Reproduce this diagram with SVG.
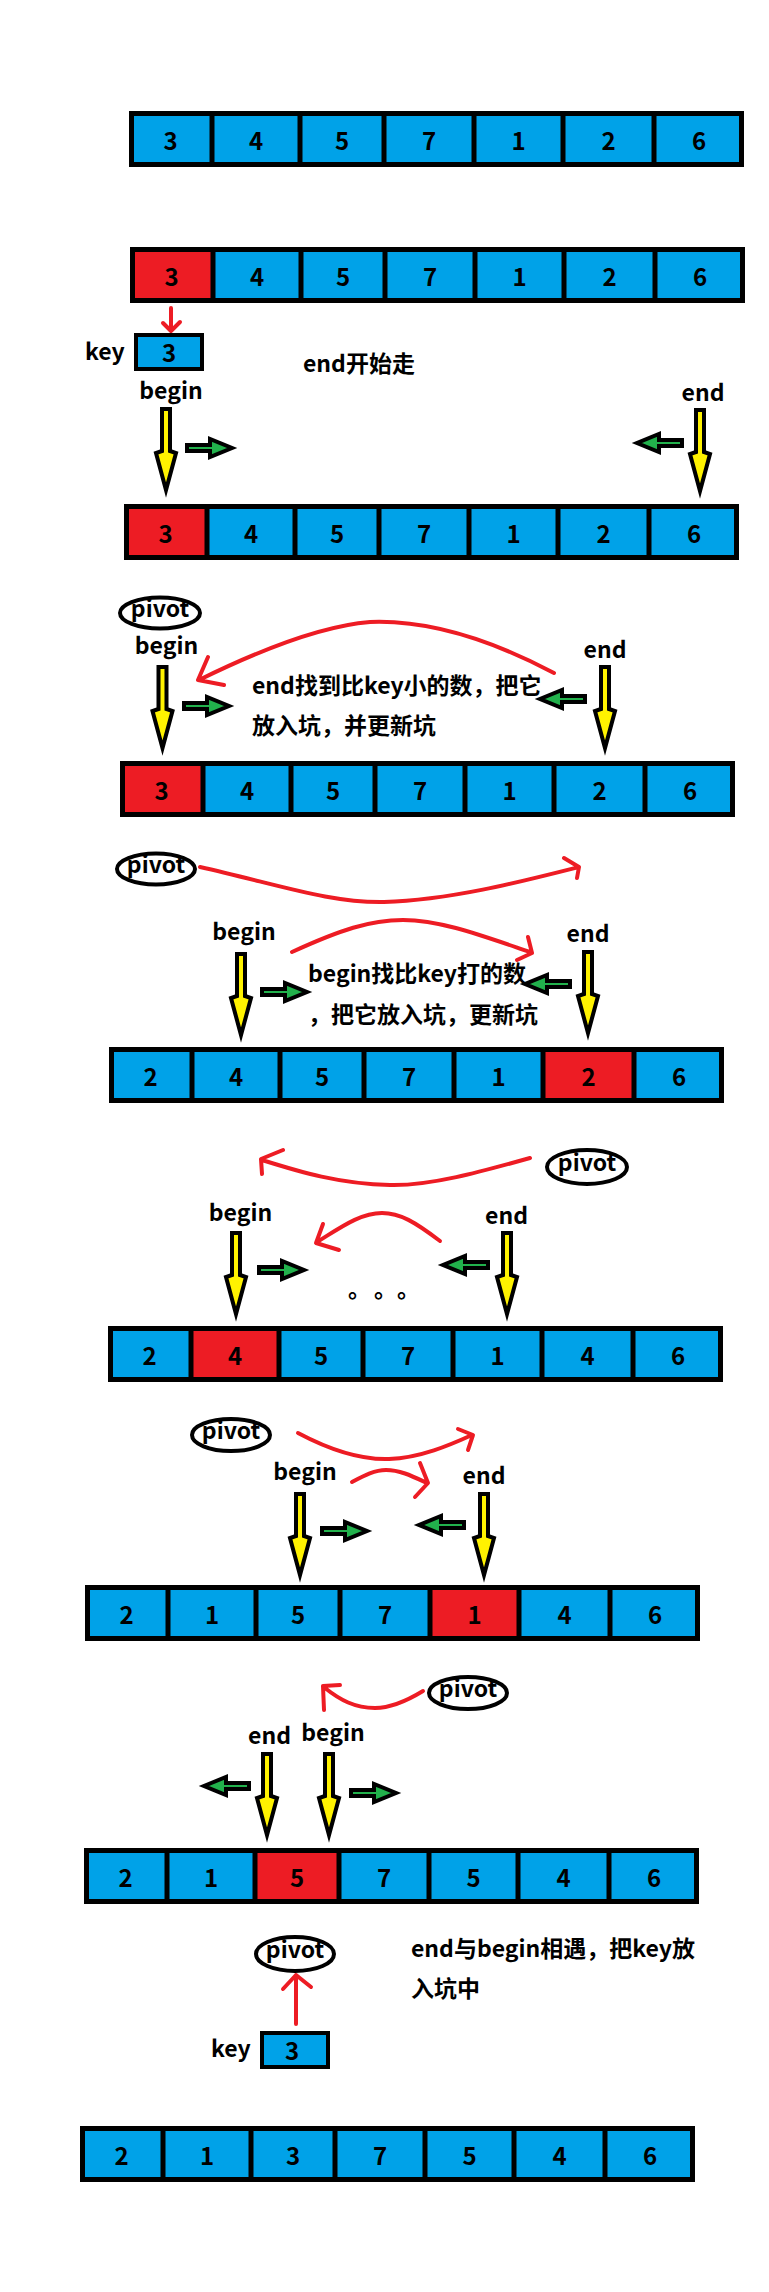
<svg xmlns="http://www.w3.org/2000/svg" xmlns:xlink="http://www.w3.org/1999/xlink" width="769" height="2292" viewBox="0 0 769 2292">
<style>
.b{fill:#00A2E8}
.r{fill:#ED1C24}
.frame{fill:none;stroke:#000;stroke-width:5}
.num{font-family:"Noto Sans CJK SC","Noto Sans",sans-serif;font-weight:bold;font-size:24px;text-anchor:middle;fill:#000}
.lbl{font-family:"Noto Sans CJK SC","Noto Sans",sans-serif;font-weight:bold;font-size:23px;fill:#000}
.mid{text-anchor:middle}
.red{fill:none;stroke:#ED1C24;stroke-width:4;stroke-linecap:round;stroke-linejoin:round}
.pv{fill:#fff;stroke:#000;stroke-width:4}
</style>
<defs>
<g id="frame">
<rect class="frame" x="2.5" y="2.5" width="610" height="51"/>
<path class="frame" d="M83,0V56M171,0V56M255,0V56M345,0V56M434,0V56M525,0V56"/>
</g>
<path id="ya" d="M-4,2 L4,2 L4,44 L10,46 L0,83 L-10,46 L-4,44 Z" fill="#FFF200" stroke="#000" stroke-width="4" stroke-miterlimit="10"/>
<path id="ga" d="M2,-3 L25,-3 L25,-9 L47,0 L25,9 L25,3 L2,3 Z" fill="#22B14C" stroke="#000" stroke-width="4" stroke-miterlimit="10"/>
</defs>
<rect width="769" height="2292" fill="#fff"/>

<!-- Arrays -->
<g id="array1" transform="translate(129,111)">
<rect class="b" x="0" y="0" width="615" height="56"/>
<use href="#frame"/>
<text class="num" x="41.5" y="39">3</text><text class="num" x="127" y="39">4</text><text class="num" x="213" y="39">5</text><text class="num" x="300" y="39">7</text><text class="num" x="389.5" y="39">1</text><text class="num" x="479.5" y="39">2</text><text class="num" x="570" y="39">6</text>
</g>
<g id="array2" transform="translate(130,247)">
<rect class="b" x="0" y="0" width="615" height="56"/><rect class="r" x="0" y="0" width="83" height="56"/>
<use href="#frame"/>
<text class="num" x="41.5" y="39">3</text><text class="num" x="127" y="39">4</text><text class="num" x="213" y="39">5</text><text class="num" x="300" y="39">7</text><text class="num" x="389.5" y="39">1</text><text class="num" x="479.5" y="39">2</text><text class="num" x="570" y="39">6</text>
</g>
<g id="array3" transform="translate(124,504)">
<rect class="b" x="0" y="0" width="615" height="56"/><rect class="r" x="0" y="0" width="83" height="56"/>
<use href="#frame"/>
<text class="num" x="41.5" y="39">3</text><text class="num" x="127" y="39">4</text><text class="num" x="213" y="39">5</text><text class="num" x="300" y="39">7</text><text class="num" x="389.5" y="39">1</text><text class="num" x="479.5" y="39">2</text><text class="num" x="570" y="39">6</text>
</g>
<g id="array4" transform="translate(120,761)">
<rect class="b" x="0" y="0" width="615" height="56"/><rect class="r" x="0" y="0" width="83" height="56"/>
<use href="#frame"/>
<text class="num" x="41.5" y="39">3</text><text class="num" x="127" y="39">4</text><text class="num" x="213" y="39">5</text><text class="num" x="300" y="39">7</text><text class="num" x="389.5" y="39">1</text><text class="num" x="479.5" y="39">2</text><text class="num" x="570" y="39">6</text>
</g>
<g id="array5" transform="translate(109,1047)">
<rect class="b" x="0" y="0" width="615" height="56"/><rect class="r" x="434" y="0" width="91" height="56"/>
<use href="#frame"/>
<text class="num" x="41.5" y="39">2</text><text class="num" x="127" y="39">4</text><text class="num" x="213" y="39">5</text><text class="num" x="300" y="39">7</text><text class="num" x="389.5" y="39">1</text><text class="num" x="479.5" y="39">2</text><text class="num" x="570" y="39">6</text>
</g>
<g id="array6" transform="translate(108,1326)">
<rect class="b" x="0" y="0" width="615" height="56"/><rect class="r" x="83" y="0" width="88" height="56"/>
<use href="#frame"/>
<text class="num" x="41.5" y="39">2</text><text class="num" x="127" y="39">4</text><text class="num" x="213" y="39">5</text><text class="num" x="300" y="39">7</text><text class="num" x="389.5" y="39">1</text><text class="num" x="479.5" y="39">4</text><text class="num" x="570" y="39">6</text>
</g>
<g id="array7" transform="translate(85,1585)">
<rect class="b" x="0" y="0" width="615" height="56"/><rect class="r" x="345" y="0" width="89" height="56"/>
<use href="#frame"/>
<text class="num" x="41.5" y="39">2</text><text class="num" x="127" y="39">1</text><text class="num" x="213" y="39">5</text><text class="num" x="300" y="39">7</text><text class="num" x="389.5" y="39">1</text><text class="num" x="479.5" y="39">4</text><text class="num" x="570" y="39">6</text>
</g>
<g id="array8" transform="translate(84,1848)">
<rect class="b" x="0" y="0" width="615" height="56"/><rect class="r" x="171" y="0" width="84" height="56"/>
<use href="#frame"/>
<text class="num" x="41.5" y="39">2</text><text class="num" x="127" y="39">1</text><text class="num" x="213" y="39">5</text><text class="num" x="300" y="39">7</text><text class="num" x="389.5" y="39">5</text><text class="num" x="479.5" y="39">4</text><text class="num" x="570" y="39">6</text>
</g>
<g id="array9" transform="translate(80,2126)">
<rect class="b" x="0" y="0" width="615" height="56"/>
<use href="#frame"/>
<text class="num" x="41.5" y="39">2</text><text class="num" x="127" y="39">1</text><text class="num" x="213" y="39">3</text><text class="num" x="300" y="39">7</text><text class="num" x="389.5" y="39">5</text><text class="num" x="479.5" y="39">4</text><text class="num" x="570" y="39">6</text>
</g>

<!-- key boxes -->
<g id="key1">
<text class="lbl" x="85" y="360">key</text>
<rect class="b" x="136" y="335" width="66" height="34" stroke="#000" stroke-width="4"/>
<text class="num" x="169" y="362">3</text>
</g>
<g id="key2">
<text class="lbl" x="211" y="2057">key</text>
<rect class="b" x="262" y="2033" width="66" height="34" stroke="#000" stroke-width="4"/>
<text class="num" x="292" y="2060">3</text>
</g>

<!-- pivots -->
<g id="pivot1"><ellipse class="pv" cx="160" cy="613" rx="40" ry="15.5"/><text class="lbl mid" x="160" y="617">pivot</text></g>
<g id="pivot2"><ellipse class="pv" cx="156" cy="869" rx="39" ry="15.5"/><text class="lbl mid" x="156" y="873">pivot</text></g>
<g id="pivot3"><ellipse class="pv" cx="587" cy="1167" rx="40" ry="17"/><text class="lbl mid" x="587" y="1171">pivot</text></g>
<g id="pivot4"><ellipse class="pv" cx="231" cy="1435" rx="39" ry="16"/><text class="lbl mid" x="231" y="1439">pivot</text></g>
<g id="pivot5"><ellipse class="pv" cx="468" cy="1693" rx="39" ry="16"/><text class="lbl mid" x="468" y="1697">pivot</text></g>
<g id="pivot6"><ellipse class="pv" cx="295" cy="1954" rx="39" ry="17"/><text class="lbl mid" x="295" y="1958">pivot</text></g>

<!-- labels -->
<g id="labels">
<text class="lbl" x="303" y="372">end开始走</text>
<text class="lbl mid" x="171" y="399">begin</text>
<text class="lbl mid" x="703" y="401">end</text>
<text class="lbl mid" x="166.5" y="654">begin</text>
<text class="lbl mid" x="605" y="658">end</text>
<text class="lbl" x="252" y="694">end找到比key小的数，把它</text>
<text class="lbl" x="252" y="734">放入坑，并更新坑</text>
<text class="lbl mid" x="244" y="940">begin</text>
<text class="lbl mid" x="588" y="942">end</text>
<text class="lbl" x="308" y="982">begin找比key打的数</text>
<text class="lbl" x="308" y="1023">，把它放入坑，更新坑</text>
<text class="lbl mid" x="240.5" y="1221">begin</text>
<text class="lbl mid" x="506.5" y="1224">end</text>
<text class="lbl" x="348 374 397" y="1297">。。。</text>
<text class="lbl mid" x="305" y="1480">begin</text>
<text class="lbl mid" x="484" y="1484">end</text>
<text class="lbl mid" x="269.5" y="1744">end</text>
<text class="lbl mid" x="333" y="1741">begin</text>
<text class="lbl" x="411" y="1957">end与begin相遇，把key放</text>
<text class="lbl" x="411" y="1997">入坑中</text>
</g>

<!-- connectors -->
<g id="connectors">
<g id="yellow-arrows">
<use href="#ya" x="166" y="407"/><use href="#ya" x="700" y="408"/>
<use href="#ya" x="162.5" y="665"/><use href="#ya" x="605" y="665"/>
<use href="#ya" x="241" y="952"/><use href="#ya" x="588" y="950"/>
<use href="#ya" x="236" y="1231"/><use href="#ya" x="507" y="1231"/>
<use href="#ya" x="300" y="1492"/><use href="#ya" x="484" y="1492"/>
<use href="#ya" x="267" y="1752"/><use href="#ya" x="329" y="1752"/>
</g>
<g id="green-arrows">
<use href="#ga" transform="translate(185,448)"/><use href="#ga" transform="translate(684,443) scale(-1,1)"/>
<use href="#ga" transform="translate(182,706)"/><use href="#ga" transform="translate(587,699) scale(-1,1)"/>
<use href="#ga" transform="translate(260,992)"/><use href="#ga" transform="translate(572,984) scale(-1,1)"/>
<use href="#ga" transform="translate(257,1270)"/><use href="#ga" transform="translate(490,1265) scale(-1,1)"/>
<use href="#ga" transform="translate(320,1531)"/><use href="#ga" transform="translate(466,1525) scale(-1,1)"/>
<use href="#ga" transform="translate(251,1786) scale(-1,1)"/><use href="#ga" transform="translate(349,1793)"/>
</g>
<g id="red-arrows">
<path class="red" d="M171,308 L171,331 M163,323 L171,331 L180,322"/>
<path class="red" d="M554,673 C480,634 420,620 370,622 C320,626 260,650 199,680 M208,657 L198,680 L224,685"/>
<path class="red" d="M200,867 C280,885 330,903 384,902 C450,900 520,882 579,867 M564,858 L579,867 L577,878"/>
<path class="red" d="M292,952 C340,930 370,920 403,920 C440,920 480,935 530,952 M528,937 L532,953 L517,960"/>
<path class="red" d="M530,1158 C480,1172 430,1186 390,1185 C340,1184 300,1172 262,1160 M283,1150 L261,1159 L262,1174"/>
<path class="red" d="M440,1241 C415,1222 400,1213 382,1213 C360,1213 340,1228 317,1242 M323,1224 L316,1243 L339,1250"/>
<path class="red" d="M298,1433 C330,1450 360,1460 389,1459 C420,1458 450,1445 472,1435 M458,1429 L473,1435 L468,1450"/>
<path class="red" d="M352,1482 C365,1475 375,1470 386,1470 C400,1470 412,1476 427,1483 M420,1463 L428,1483 L415,1497"/>
<path class="red" d="M423,1691 C405,1702 390,1708 375,1708 C355,1708 340,1700 325,1688 M340,1685 L323,1686 L324,1710"/>
<path class="red" d="M296,2024 L296,1975 M283,1989 L296,1975 L311,1987"/>
</g>
</g>
</svg>
